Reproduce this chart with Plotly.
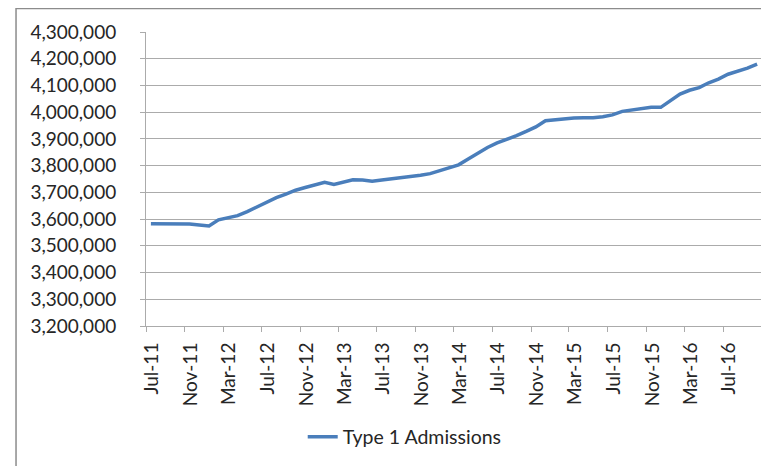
import plotly.graph_objects as go

months = [
    "2011-07-01", "2011-08-01", "2011-09-01", "2011-10-01", "2011-11-01", "2011-12-01",
    "2012-01-01", "2012-02-01", "2012-03-01", "2012-04-01", "2012-05-01", "2012-06-01",
    "2012-07-01", "2012-08-01", "2012-09-01", "2012-10-01", "2012-11-01", "2012-12-01",
    "2013-01-01", "2013-02-01", "2013-03-01", "2013-04-01", "2013-05-01", "2013-06-01",
    "2013-07-01", "2013-08-01", "2013-09-01", "2013-10-01", "2013-11-01", "2013-12-01",
    "2014-01-01", "2014-02-01", "2014-03-01", "2014-04-01", "2014-05-01", "2014-06-01",
    "2014-07-01", "2014-08-01", "2014-09-01", "2014-10-01", "2014-11-01", "2014-12-01",
    "2015-01-01", "2015-02-01", "2015-03-01", "2015-04-01", "2015-05-01", "2015-06-01",
    "2015-07-01", "2015-08-01", "2015-09-01", "2015-10-01", "2015-11-01", "2015-12-01",
    "2016-01-01", "2016-02-01", "2016-03-01", "2016-04-01", "2016-05-01", "2016-06-01",
    "2016-07-01", "2016-08-01", "2016-09-01", "2016-10-01",
]

admissions = [
    3583000, 3583000, 3583000, 3583000, 3582000, 3578000,
    3574000, 3597000, 3605000, 3613000, 3628000, 3645000, 3661000,
    3680000, 3693000, 3708000, 3718000, 3728000, 3738000, 3730000,
    3740000, 3747000, 3746000, 3742000, 3746000, 3750000,
    3754000, 3758000, 3764000, 3770000, 3782000, 3795000, 3803000,
    3825000, 3848000, 3868000, 3885000, 3898000, 3912000,
    3928000, 3945000, 3968000, 3972000, 3975000, 3978000, 3979000,
    3979000, 3983000, 3990000, 4003000, 4008000, 4015000,
    4018000, 4018000, 4045000, 4068000, 4082000, 4092000, 4110000,
    4124000, 4142000, 4153000, 4165000, 4180000,
]

tick_dates = [
    "2011-07-01", "2011-11-01", "2012-03-01", "2012-07-01", "2012-11-01",
    "2013-03-01", "2013-07-01", "2013-11-01", "2014-03-01", "2014-07-01",
    "2014-11-01", "2015-03-01", "2015-07-01", "2015-11-01", "2016-03-01",
    "2016-07-01", "2016-11-01",
]
tick_labels = [
    "Jul-11", "Nov-11", "Mar-12", "Jul-12", "Nov-12", "Mar-13", "Jul-13",
    "Nov-13", "Mar-14", "Jul-14", "Nov-14", "Mar-15", "Jul-15", "Nov-15",
    "Mar-16", "Jul-16", "",
]

series_name = "Type 1 Admissions"

FONT = "Lato"
GRID = "#ababab"
TEXT = "#262626"

fig = go.Figure()
fig.add_trace(go.Scatter(
    x=months, y=admissions, mode="lines", name=series_name,
    xperiod="M1", xperiodalignment="middle",
    line=dict(color="#4a7ebb", width=3.5),
))

fig.update_layout(
    width=761, height=458,
    margin=dict(l=138, r=7, t=24, b=140, autoexpand=False),
    paper_bgcolor="white", plot_bgcolor="white",
    font=dict(family=FONT, size=19, color=TEXT),
    showlegend=True,
    legend=dict(orientation="h", x=0.42, xanchor="center", y=-0.378, yanchor="middle",
                font=dict(family=FONT, size=19.5, color=TEXT)),
    xaxis=dict(
        type="date", range=["2011-07-01", "2016-11-01"],
        tickmode="array", tickvals=tick_dates, ticktext=tick_labels,
        tickangle=-90, ticks="outside", ticklen=5, tickcolor=GRID,
        showline=True, linecolor=GRID, linewidth=1,
        showgrid=False, zeroline=False, ticklabelstandoff=3,
        ticklabelshift=6,
    ),
    yaxis=dict(
        range=[3200000, 4300000], dtick=100000, tick0=3200000,
        tickformat=",", ticks="outside", ticklen=5, tickcolor=GRID,
        showline=True, linecolor=GRID, linewidth=1,
        showgrid=True, gridcolor=GRID, gridwidth=1, zeroline=False,
        ticklabelstandoff=20,
    ),
    shapes=[dict(type="rect", xref="paper", yref="paper",
                 x0=-0.211, x1=1.03, y0=-0.5, y1=1.08,
                 line=dict(color="#8c8c8c", width=1.5), fillcolor="rgba(0,0,0,0)")],
)

fig.write_html("out.html")
